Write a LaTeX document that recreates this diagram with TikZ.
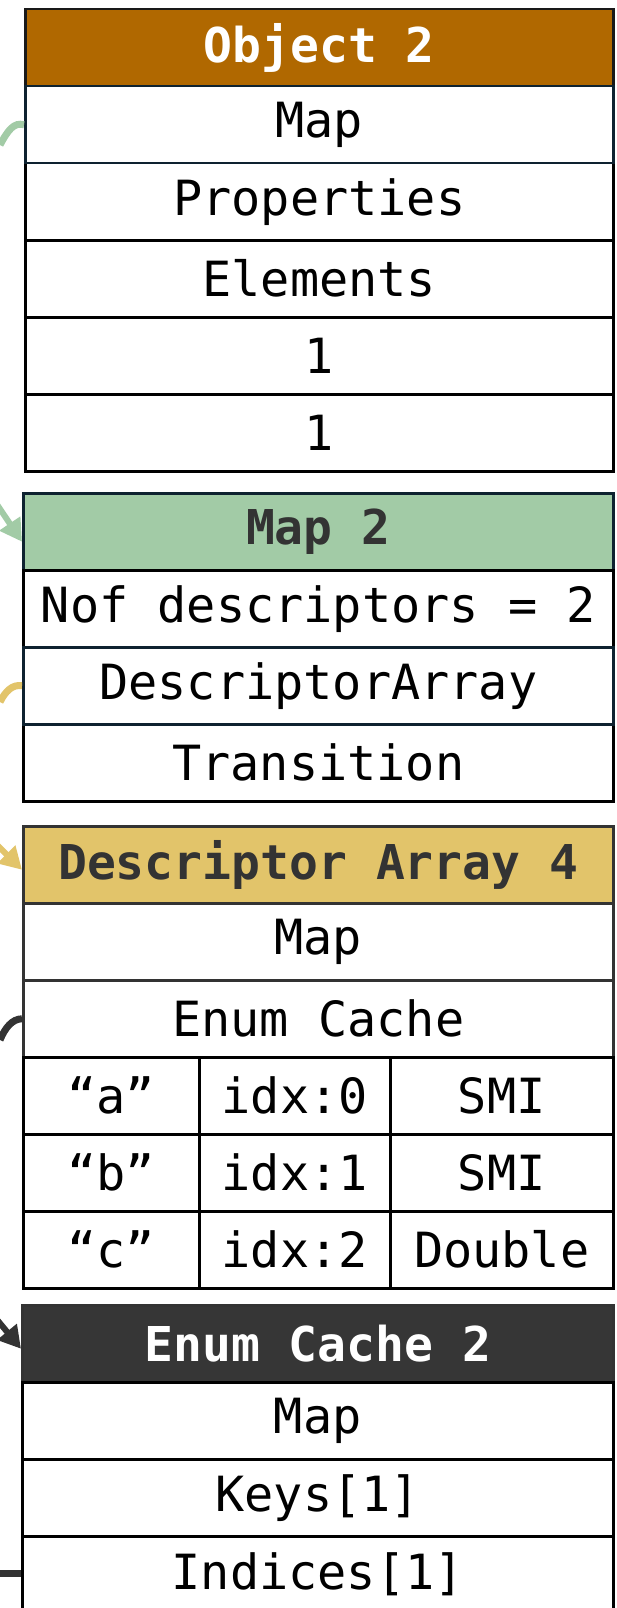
\documentclass[tikz,border=0pt]{standalone}
\usepackage{fontspec}
\setmonofont{DejaVu Sans Mono}
\usetikzlibrary{arrows.meta}
\definecolor{orangehdr}{HTML}{B06800}
\definecolor{greenhdr}{HTML}{A2CBA6}
\definecolor{yellowhdr}{HTML}{E2C46A}
\definecolor{darkhdr}{HTML}{363636}
\definecolor{navy}{HTML}{0E2230}
\definecolor{gray3}{HTML}{333333}
\tikzset{
  row/.style={draw=black, line width=2.5pt, fill=white, inner sep=0pt, anchor=north west,
    minimum height=77pt, font=\fontsize{48.5}{52}\selectfont\ttfamily, text=black},
  hdr/.style={row, font=\fontsize{48}{52}\selectfont\ttfamily\bfseries},
  link/.style={line width=7pt, line cap=butt},
  tip/.style={-{Triangle[length=22pt,width=24pt]}, line width=6pt}
}
\begin{document}
\begin{tikzpicture}[x=1pt,y=-1pt]
\useasboundingbox (0,0) rectangle (616,1608);
% Object 2
\node[hdr, fill=orangehdr, text=white, draw=black!90, minimum width=588pt] (oh) at (24,8) {Object 2};
\node[row, minimum width=588pt] (op) at (24,162) {Properties};
\node[row, minimum width=588pt] (oe) at (24,239) {Elements};
\node[row, minimum width=588pt] (o1) at (24,316) {1};
\node[row, minimum width=588pt] (o2) at (24,393) {1};
\node[row, draw=navy, minimum width=588pt] (om) at (24,85) {Map};
% Map 2
\node[hdr, fill=greenhdr, text=gray3, draw=navy, minimum width=590pt] (mh) at (22,492) {Map 2};
\node[row, minimum width=590pt] (mn) at (22,569) {Nof descriptors = 2};
\node[row, minimum width=590pt] (mt) at (22,723) {Transition};
\node[row, draw=navy, minimum width=590pt] (md) at (22,646) {DescriptorArray};
% Descriptor Array 4
\node[hdr, fill=yellowhdr, text=gray3, draw=gray3, minimum width=590pt] (dh) at (22,825) {Descriptor Array 4};
\node[row, draw=gray3, minimum width=590pt] (dm) at (22,902) {Map};
\node[row, draw=gray3, minimum width=590pt] (de) at (22,979) {Enum Cache};
\node[row, draw=black, minimum width=176pt] (a1) at (22,1056) {“a”};
\node[row, draw=black, minimum width=191pt] (a2) at (198,1056) {idx:0};
\node[row, draw=black, minimum width=223pt] (a3) at (389,1056) {SMI};
\node[row, draw=black, minimum width=176pt] (b1) at (22,1133) {“b”};
\node[row, draw=black, minimum width=191pt] (b2) at (198,1133) {idx:1};
\node[row, draw=black, minimum width=223pt] (b3) at (389,1133) {SMI};
\node[row, draw=black, minimum width=176pt] (c1) at (22,1210) {“c”};
\node[row, draw=black, minimum width=191pt] (c2) at (198,1210) {idx:2};
\node[row, draw=black, minimum width=223pt] (c3) at (389,1210) {Double};
% Enum Cache 2
\node[hdr, fill=darkhdr, text=white, draw=gray3, minimum width=591pt] (eh) at (21,1304) {Enum Cache 2};
\node[row, minimum width=591pt] (em) at (21,1381) {Map};
\node[row, minimum width=591pt] (ek) at (21,1458) {Keys[1]};
\node[row, minimum width=591pt] (ei) at (21,1535) {Indices[1]};
% free ends
\coordinate (g0) at (0,145);
\coordinate (g1) at (-6,500);
\coordinate (y0) at (0,702);
\coordinate (y1) at (-6,842);
\coordinate (k0) at (0,1040);
\coordinate (k1) at (-6,1316);
\coordinate (s0) at (0,1573);
% connectors
\draw[link, greenhdr] (g0) .. controls (8,130) and (14,122) .. (om.west);
\draw[tip, greenhdr] (g1) -- ([yshift=-10pt]mh.west);
\draw[link, yellowhdr] (md.west) .. controls (12,684) and (5,692) .. (y0);
\draw[tip, yellowhdr] (y1) -- ([yshift=-5pt]dh.west);
\draw[link, gray3] (de.west) .. controls (12,1019) and (5,1028) .. (k0);
\draw[tip, gray3] (k1) -- ([yshift=-5pt]eh.west);
\draw[link, gray3] (s0) -- (s0 -| ei.west);
\end{tikzpicture}
\end{document}
